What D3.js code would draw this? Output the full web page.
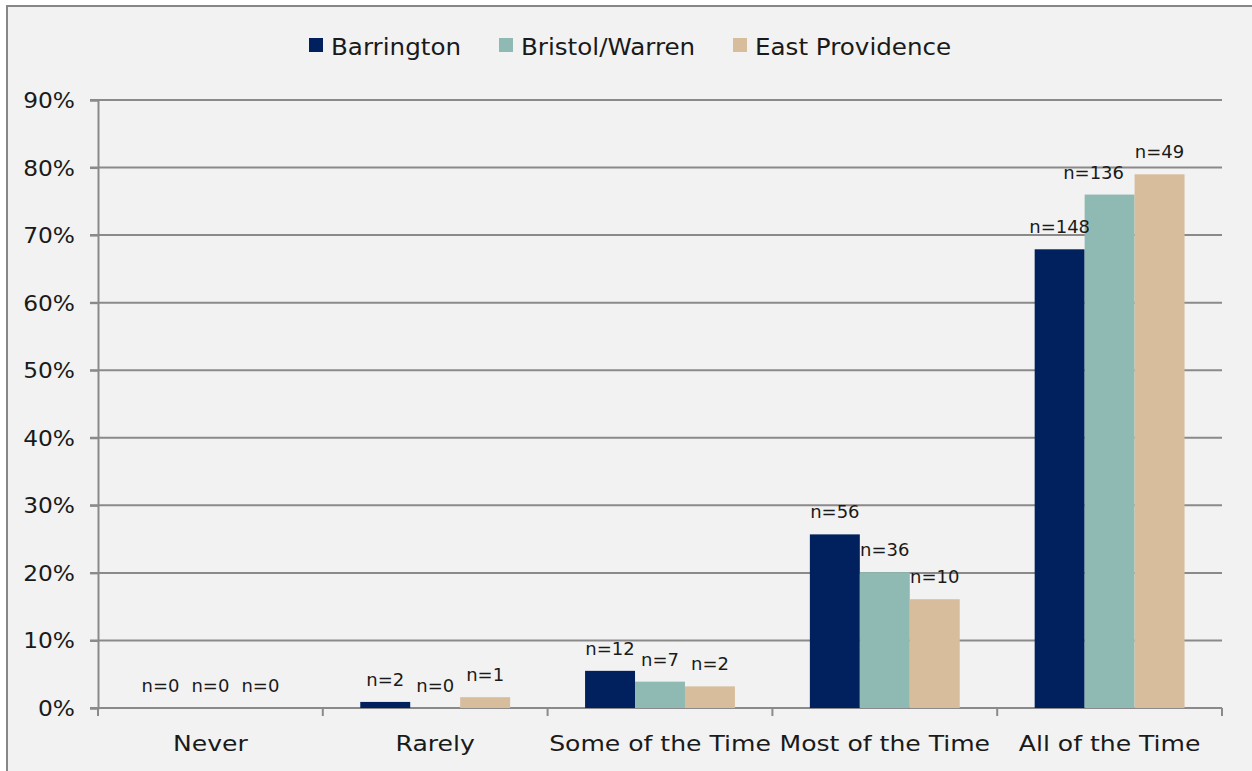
<!DOCTYPE html>
<html>
<head>
<meta charset="utf-8">
<script src="https://cdnjs.cloudflare.com/ajax/libs/d3/7.8.5/d3.min.js"></script>
<style>
    html, body { margin: 0; padding: 0; background: #ffffff; }
    svg { display: block; }
    text { font-family: "DejaVu Sans", sans-serif; fill: #1a1a1a; }
</style>
</head>
<body>
<div id="chart"></div>
<script>
// values (percent of respondents)
var categories = ['Never', 'Rarely', 'Some of the Time', 'Most of the Time', 'All of the Time'];
var seriesNames = ['Barrington', 'Bristol/Warren', 'East Providence'];
var barrington = [0, 0.9, 5.5, 25.7, 67.9];
var bristolWarren = [0, 0, 3.9, 20.1, 76.0];
var eastProvidence = [0, 1.6, 3.2, 16.1, 79.0];
// counts shown as labels
var barringtonN = [0, 2, 12, 56, 148];
var bristolWarrenN = [0, 0, 7, 36, 136];
var eastProvidenceN = [0, 1, 2, 10, 49];
var yTicks = [0, 10, 20, 30, 40, 50, 60, 70, 80, 90];

var colors = ['#00215e', '#8fbab3', '#d7bd9c'];
var values = [barrington, bristolWarren, eastProvidence];
var counts = [barringtonN, bristolWarrenN, eastProvidenceN];

var view = { width: 1252, height: 771 };
var plot = { left: 98, right: 1222, top: 100, bottom: 708 };

// the original font (Century Gothic) is wider, so stretch text a little
var place = function(x, y, sx) {
    return 'translate(' + x + ',' + y + ') scale(' + sx + ',1)';
};

var svg = d3.select('#chart')
    .append('svg')
    .attr('width', view.width)
    .attr('height', view.height);

// chart area with its frame
svg.append('rect')
    .attr('x', 7)
    .attr('y', 6)
    .attr('width', 1250)
    .attr('height', 800)
    .style('fill', '#f2f2f2')
    .style('stroke', '#878787')
    .style('stroke-width', 2);

var x0 = d3.scaleBand()
    .domain(categories)
    .range([plot.left, plot.right])
    .padding(0);

var x1 = d3.scaleBand()
    .domain(seriesNames)
    .range([x0.bandwidth() / 6, x0.bandwidth() * 5 / 6])
    .padding(0);

var y = d3.scaleLinear()
    .domain([0, 90])
    .range([plot.bottom, plot.top]);

// gridlines
svg.append('g')
    .selectAll('line')
    .data(yTicks)
    .enter()
    .append('line')
    .attr('x1', plot.left - 8)
    .attr('x2', plot.right)
    .attr('y1', function(d) { return y(d); })
    .attr('y2', function(d) { return y(d); })
    .style('stroke', '#8a8a8a')
    .style('stroke-width', 2);

// y axis
var yAxis = svg.append('g')
    .attr('transform', 'translate(' + plot.left + ',0)')
    .call(d3.axisLeft(y).tickValues(yTicks).tickSize(8).tickFormat(''));
yAxis.selectAll('path, line').style('stroke', '#8a8a8a').style('stroke-width', 2);

svg.append('g')
    .selectAll('text')
    .data(yTicks)
    .enter()
    .append('text')
    .attr('transform', function(d) { return place(75, y(d) + 8, 1.06); })
    .attr('text-anchor', 'end')
    .style('font-size', '22px')
    .text(function(d) { return d + '%'; });

// x axis: tick marks at category boundaries
var xAxisG = svg.append('g');
xAxisG.append('line')
    .attr('x1', plot.left)
    .attr('x2', plot.right)
    .attr('y1', plot.bottom)
    .attr('y2', plot.bottom)
    .style('stroke', '#8a8a8a')
    .style('stroke-width', 2);
var bounds = categories.map(function(c) { return x0(c); }).concat([plot.right]);
xAxisG.selectAll('.xtick')
    .data(bounds)
    .enter()
    .append('line')
    .attr('class', 'xtick')
    .attr('x1', function(d) { return d; })
    .attr('x2', function(d) { return d; })
    .attr('y1', plot.bottom)
    .attr('y2', plot.bottom + 8)
    .style('stroke', '#8a8a8a')
    .style('stroke-width', 2);
xAxisG.selectAll('.xlabel')
    .data(categories)
    .enter()
    .append('text')
    .attr('class', 'xlabel')
    .attr('transform', function(d) { return place(x0(d) + x0.bandwidth() / 2, 751, 1.14); })
    .attr('text-anchor', 'middle')
    .style('font-size', '22px')
    .text(function(d) { return d; });

// bars
var groups = svg.append('g')
    .selectAll('g')
    .data(categories)
    .enter()
    .append('g')
    .attr('transform', function(d) { return 'translate(' + x0(d) + ',0)'; });

groups.selectAll('rect')
    .data(function(d, i) {
        return seriesNames.map(function(s, j) {
            return { series: s, idx: j, value: values[j][i], n: counts[j][i] };
        });
    })
    .enter()
    .append('rect')
    .attr('x', function(d) { return x1(d.series); })
    .attr('width', x1.bandwidth())
    .attr('y', function(d) { return y(d.value); })
    .attr('height', function(d) { return plot.bottom - y(d.value); })
    .style('fill', function(d) { return colors[d.idx]; });

groups.selectAll('text')
    .data(function(d, i) {
        return seriesNames.map(function(s, j) {
            return { cat: d, series: s, idx: j, value: values[j][i], n: counts[j][i] };
        });
    })
    .enter()
    .append('text')
    .attr('transform', function(d) {
        var cx = x1(d.series) + x1.bandwidth() / 2;
        // Excel nudged this one label left to avoid its neighbour
        if (d.cat === 'All of the Time' && d.idx === 1) cx -= 16;
        return place(cx, y(d.value) - 16, 1.0);
    })
    .attr('text-anchor', 'middle')
    .style('font-size', '18px')
    .text(function(d) { return 'n=' + d.n; });

// legend
var legendX = [309, 499, 733];
var legend = svg.append('g')
    .selectAll('g')
    .data(seriesNames)
    .enter()
    .append('g')
    .attr('transform', function(d, i) { return 'translate(' + legendX[i] + ',38)'; });
legend.append('rect')
    .attr('width', 14)
    .attr('height', 14)
    .style('fill', function(d, i) { return colors[i]; });
legend.append('text')
    .attr('transform', place(22, 17, 1.07))
    .style('font-size', '23px')
    .text(function(d) { return d; });
</script>
</body>
</html>
